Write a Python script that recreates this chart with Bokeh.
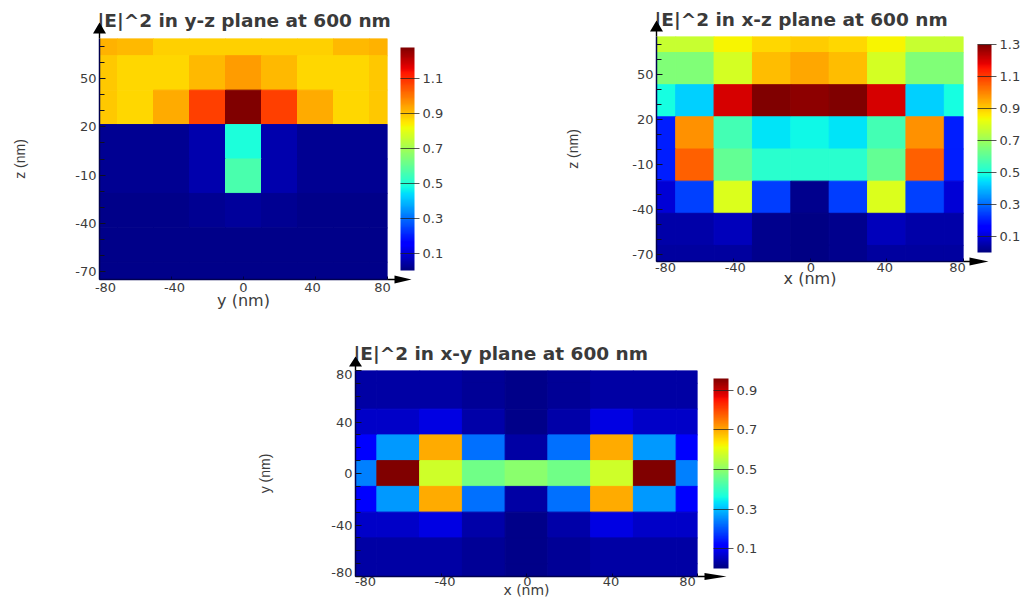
from bokeh.embed import file_html
from bokeh.layouts import column, row
from bokeh.models import (ColorBar, ColumnDataSource, FixedTicker, LinearAxis,
                          LinearColorMapper, Range1d, Spacer)
from bokeh.plotting import figure
from bokeh.resources import INLINE

# ---------- data ----------
x_edges = [-80, -70, -50, -30, -10, 10, 30, 50, 70, 80]
z_edges = [75, 64.29, 42.86, 21.43, 0, -21.43, -42.86, -64.29, -75]
y_edges = [80, 70, 50, 30, 10, -10, -30, -50, -70, -80]

yz_values = [
    [0.92, 0.91, 0.88, 0.88, 0.88, 0.88, 0.88, 0.91, 0.92],
    [0.89, 0.87, 0.87, 0.91, 0.95, 0.91, 0.87, 0.87, 0.89],
    [0.89, 0.87, 0.93, 1.075, 1.28, 1.075, 0.93, 0.87, 0.89],
    [0.02, 0.02, 0.02, 0.05, 0.49, 0.05, 0.02, 0.02, 0.02],
    [0.02, 0.02, 0.02, 0.05, 0.56, 0.05, 0.02, 0.02, 0.02],
    [0.01, 0.01, 0.01, 0.02, 0.03, 0.02, 0.01, 0.01, 0.01],
    [0.01, 0.01, 0.01, 0.01, 0.01, 0.01, 0.01, 0.01, 0.01],
    [0.01, 0.01, 0.01, 0.01, 0.01, 0.01, 0.01, 0.01, 0.01],
]
xz_values = [
    [0.77, 0.77, 0.845, 0.885, 0.90, 0.885, 0.845, 0.77, 0.77],
    [0.66, 0.66, 0.79, 0.92, 0.95, 0.92, 0.79, 0.66, 0.66],
    [0.49, 0.43, 1.20, 1.30, 1.28, 1.30, 1.20, 0.43, 0.49],
    [0.20, 0.985, 0.56, 0.455, 0.48, 0.455, 0.56, 0.985, 0.20],
    [0.20, 1.05, 0.61, 0.52, 0.52, 0.52, 0.61, 1.05, 0.20],
    [0.10, 0.245, 0.80, 0.24, 0.02, 0.24, 0.80, 0.245, 0.10],
    [0.05, 0.05, 0.07, 0.02, 0.01, 0.02, 0.07, 0.05, 0.05],
    [0.04, 0.04, 0.04, 0.02, 0.01, 0.02, 0.04, 0.04, 0.04],
]
xy_values = [
    [0.03, 0.03, 0.03, 0.02, 0.01, 0.02, 0.03, 0.03, 0.03],
    [0.03, 0.03, 0.03, 0.02, 0.01, 0.02, 0.03, 0.03, 0.03],
    [0.06, 0.06, 0.085, 0.035, 0.01, 0.035, 0.085, 0.06, 0.06],
    [0.105, 0.265, 0.70, 0.225, 0.03, 0.225, 0.70, 0.265, 0.105],
    [0.24, 0.96, 0.575, 0.467, 0.495, 0.467, 0.575, 0.96, 0.24],
    [0.105, 0.265, 0.70, 0.225, 0.03, 0.225, 0.70, 0.265, 0.105],
    [0.06, 0.06, 0.085, 0.035, 0.01, 0.035, 0.085, 0.06, 0.06],
    [0.03, 0.03, 0.03, 0.02, 0.01, 0.02, 0.03, 0.03, 0.03],
    [0.03, 0.03, 0.03, 0.02, 0.01, 0.02, 0.03, 0.03, 0.03],
]
x_ticks = [-80, -40, 0, 40, 80]
z_ticks = [50, 20, -10, -40, -70]
y_ticks = [80, 40, 0, -40, -80]
cb1_ticks = [0.1, 0.3, 0.5, 0.7, 0.9, 1.1]
cb2_ticks = [0.1, 0.3, 0.5, 0.7, 0.9, 1.1, 1.3]
cb3_ticks = [0.1, 0.3, 0.5, 0.7, 0.9]

# axis arrow decoration, in page pixels: (x, tip, base, half width, stem end)
up_arrows = [(99, 22, 33, 6.5, 38), (656, 20, 31, 6.5, 36), (355, 356, 366, 6.5, 370)]
# (y, tip, base, half height, stem start)
right_arrows = [(279, 411, 394, 4, 387), (261, 988, 969, 4, 963), (576, 726, 704, 3.5, 697)]

TEXT = "#3c3c3c"
FONT = "DejaVu Sans"


def jet(t):
    def interp(anchors):
        for (a, va), (b, vb) in zip(anchors, anchors[1:]):
            if t <= b:
                return va + (vb - va) * (t - a) / (b - a)
        return anchors[-1][1]
    r = interp([(0, 0), (0.35, 0), (0.66, 1), (0.89, 1), (1, 0.5)])
    g = interp([(0, 0), (0.125, 0), (0.375, 1), (0.64, 1), (0.91, 0), (1, 0)])
    b = interp([(0, 0.5), (0.11, 1), (0.34, 1), (0.65, 0), (1, 0)])
    return "#%02x%02x%02x" % (round(r * 255), round(g * 255), round(b * 255))


JET = [jet(i / 255) for i in range(256)]


def panel(values, xe, ye, xr, yr, title, xlabel, ylabel, xt, yt, cbt, vmax,
          size, border, cb, xoff, yoff, ystand, minor, arrow):
    W, H = size
    L, T = border
    B = H - T - arrow["fh"]
    R = W - L - arrow["fw"]
    p = figure(frame_width=arrow["fw"], frame_height=arrow["fh"], x_range=xr, y_range=yr, title=title,
               min_border_left=L, min_border_top=T, min_border_bottom=B, min_border_right=R,
               output_backend="svg", toolbar_location=None, tools="")
    p.grid.visible = False
    p.outline_line_color = None
    p.title.text_font = FONT
    p.title.text_font_size = "18.5px"
    p.title.text_font_style = "bold"
    p.title.text_color = "#3a3a3a"
    p.title.offset = -2
    p.title.standoff = arrow["tstand"]

    l, r, t, b, v = [], [], [], [], []
    for i, rw in enumerate(values):
        for j, val in enumerate(rw):
            l.append(xe[j]); r.append(xe[j + 1]); t.append(ye[i]); b.append(ye[i + 1]); v.append(val)
    mapper = LinearColorMapper(palette=JET, low=0, high=vmax)
    src = ColumnDataSource(dict(left=l, right=r, top=t, bottom=b, v=v))
    p.quad(left="left", right="right", top="top", bottom="bottom", source=src,
           fill_color={"field": "v", "transform": mapper},
           line_color={"field": "v", "transform": mapper}, line_width=1)

    # main axes: ticks only
    ax = p.xaxis[0]
    ax.ticker = FixedTicker(ticks=xt)
    ax.major_label_overrides = {float(k): "" for k in xt}
    ax.major_tick_in, ax.major_tick_out = 3, 0
    ax.major_tick_line_color = "#000040"
    ax.minor_tick_line_color = None
    ax.major_label_standoff = 0
    ax.major_label_text_font_size = "1px"
    ax.axis_line_color = "#000050"
    ax.axis_line_width = 1.5

    ay = p.yaxis[0]
    ay.ticker = FixedTicker(ticks=yt, minor_ticks=minor)
    ay.major_label_overrides = {float(k): "" for k in yt}
    ay.major_tick_in, ay.major_tick_out = 6, 0
    ay.minor_tick_in, ay.minor_tick_out = 5, 0
    ay.major_tick_line_color = "#101020"
    ay.minor_tick_line_color = "#101020"
    ay.major_label_standoff = 0
    ay.major_label_text_font_size = "1px"
    ay.axis_line_color = "#000050"
    ay.axis_line_width = 1.5

    # label axes: the reference pulls its end labels inward
    px_x = arrow["fw"] / (xr[1] - xr[0])
    px_y = arrow["fh"] / (yr[1] - yr[0])
    lx = {float(k + d / px_x): str(k) for k, d in zip(xt, xoff)}
    ly = {float(k + d / px_y): str(k) for k, d in zip(yt, yoff)}
    bx = LinearAxis(ticker=FixedTicker(ticks=list(lx)), major_label_overrides=lx,
                    axis_label=xlabel, axis_line_color=None, major_tick_line_color=None,
                    minor_tick_line_color=None, major_label_standoff=arrow["xlab"],
                    major_label_text_font=FONT, major_label_text_font_size="13px",
                    major_label_text_color=TEXT, axis_label_text_font=FONT,
                    axis_label_text_font_size=arrow["xfont"], axis_label_text_font_style="normal",
                    axis_label_text_color=TEXT, axis_label_standoff=arrow["xstand"])
    p.add_layout(bx, "below")
    by = LinearAxis(ticker=FixedTicker(ticks=list(ly)), major_label_overrides=ly,
                    axis_label=ylabel, axis_line_color=None, major_tick_line_color=None,
                    minor_tick_line_color=None, major_label_standoff=-3,
                    major_label_text_font=FONT, major_label_text_font_size="13px",
                    major_label_text_color=TEXT, axis_label_text_font="Liberation Sans",
                    axis_label_text_font_size="14px", axis_label_text_font_style="normal",
                    axis_label_text_color=TEXT, axis_label_standoff=ystand)
    p.add_layout(by, "left")

    cbar = ColorBar(color_mapper=mapper, ticker=FixedTicker(ticks=cbt),
                    location=cb[:2], width=cb[2], height=cb[3], padding=0,
                    major_tick_in=cb[2], major_tick_out=5, major_tick_line_color="#202020",
                    major_tick_line_alpha=0.75, minor_tick_line_color=None, bar_line_color=None,
                    label_standoff=3, major_label_text_font=FONT, major_label_text_font_size="13px",
                    major_label_text_color=TEXT, background_fill_alpha=0, border_line_color=None)
    p.add_layout(cbar, "right")
    return p


p1 = panel(yz_values, x_edges, z_edges, (-80, 80), (-75, 75),
           "|E|^2 in y-z plane at 600 nm", "y (nm)", "z (nm)", x_ticks, z_ticks, cb1_ticks, 1.28,
           (508, 318), (99, 38), (13, 9, 14, 223), [6, 3, 0, -3, -5], [0, 0, 0, 0, 0], 44,
           [70, 60, 40, 30, 10, 0, -20, -30, -50, -60],
           dict(fw=288, fh=241, tstand=15, xstand=-4, xlab=-3, xfont="16px"))
p2 = panel(xz_values, x_edges, z_edges, (-80, 80), (-75, 75),
           "|E|^2 in x-z plane at 600 nm", "x (nm)", "z (nm)", x_ticks, z_ticks, cb2_ticks, 1.3,
           (514, 318), (148, 36), (14, 9, 14, 208), [9, 2, 1, -2, -6], [0, 0, 0, 0, 0], 48,
           [70, 60, 40, 30, 10, 0, -20, -30, -50, -60],
           dict(fw=307, fh=225, tstand=13, xstand=-6, xlab=-5, xfont="16px"))
p3 = panel(xy_values, x_edges, y_edges, (-80, 80), (-80, 80),
           "|E|^2 in x-y plane at 600 nm", "x (nm)", "y (nm)", x_ticks, y_ticks, cb3_ticks, 0.96,
           (572, 282), (147, 52), (16, 8, 15, 190), [10, 4, 1, -1, -10], [-4, 0, 0, 0, 4], 55,
           [70, 60, 50, 30, 20, 10, -10, -20, -30, -50, -60, -70],
           dict(fw=342, fh=206, tstand=13, xstand=-7, xlab=-6, xfont="14px"))

# transparent page-sized figure on top: the arrow heads reach outside the plot frames
overlay = figure(width=1022, height=600, x_range=Range1d(0, 1022), y_range=Range1d(600, 0),
                 min_border=0, output_backend="svg", toolbar_location=None, tools="",
                 background_fill_color=None, border_fill_color=None,
                 styles={"position": "absolute", "left": "0px", "top": "0px", "pointer-events": "none"})
overlay.axis.visible = False
overlay.grid.visible = False
overlay.outline_line_color = None
for x, tip, base, hw, end in up_arrows:
    overlay.patch([x, x + hw, x + 0.7, x + 0.7, x - 0.7, x - 0.7, x - hw],
                  [tip, base, base, end, end, base, base], color="black", line_color=None)
for y, tip, base, hh, start in right_arrows:
    overlay.patch([tip, base, base, start, start, base, base],
                  [y, y - hh, y - 0.7, y - 0.7, y + 0.7, y + 0.7, y + hh], color="black", line_color=None)

layout = column(row(column(p1), column(p2), spacing=0),
                row(Spacer(width=208, height=10), p3, spacing=0),
                overlay, spacing=0)

open("out.html", "w").write(file_html(layout, INLINE))
